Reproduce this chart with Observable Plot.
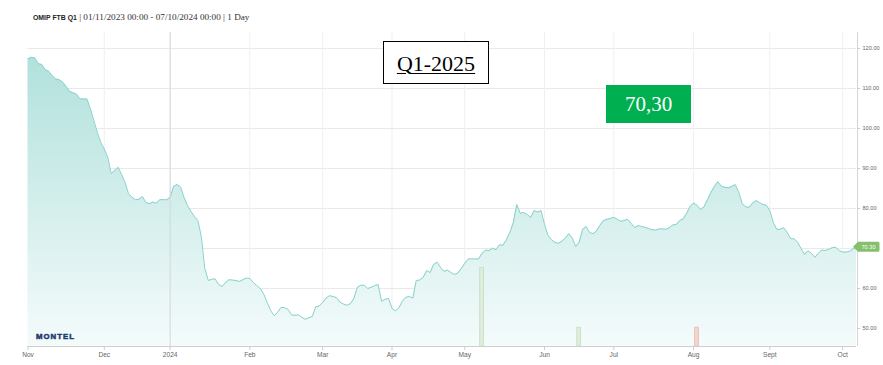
<!DOCTYPE html>
<html>
<head>
<meta charset="utf-8">
<script src="https://cdn.jsdelivr.net/npm/d3@7"></script>
<script src="https://cdn.jsdelivr.net/npm/@observablehq/plot@0.6"></script>
<style>
  html, body { margin: 0; padding: 0; background: #fff; width: 883px; height: 365px; overflow: hidden; position: relative; }
  #title { position: absolute; left: 33px; top: 9px; white-space: nowrap; line-height: 12px; }
  #title b { font-family: "Liberation Sans", Arial, sans-serif; font-weight: bold; font-size: 6.9px; color: #222; }
  #title span { font-family: "Liberation Serif", serif; font-size: 9.2px; color: #333; }
  #wrap { position: absolute; left: 0; top: 25px; width: 883px; height: 340px; }
  #wrap svg { position: absolute; left: 0; top: 0; }
  #logo { position: absolute; left: 36px; top: 332px; font-family: "Liberation Sans", Arial, sans-serif; font-weight: bold; font-size: 7.8px; letter-spacing: 1px; color: #1d3a6c; z-index: 3; -webkit-text-stroke: 0.5px #1d3a6c; }
  #q1 { position: absolute; left: 383px; top: 41px; width: 106px; height: 43px; box-sizing: border-box; border: 1.5px solid #000; background: #fff; display: flex; align-items: center; justify-content: center; font-family: "Liberation Serif", serif; font-size: 22px; color: #000; text-decoration: underline; text-decoration-thickness: 1.3px; text-underline-offset: 2px; padding-top: 2px; z-index: 3; }
  #last { position: absolute; left: 606px; top: 85px; width: 85px; height: 38px; background: #00b050; display: flex; align-items: center; justify-content: center; font-family: "Liberation Serif", serif; font-size: 21px; color: #fff; z-index: 3; }
</style>
</head>
<body>
<div id="title"><b>OMIP FTB Q1</b><span> | 01/11/2023 00:00 - 07/10/2024 00:00 | 1 Day</span></div>
<div id="wrap"></div>
<div id="logo">MONTEL</div>
<div id="q1">Q1-2025</div>
<div id="last">70,30</div>
<script>
// Daily settlement prices (EUR/MWh), one per trading day from 01/11/2023
const price = [
  117.4,117.8,117.6,116.2,116.0,114.7,114.3,113.2,112.4,112.2,
  111.6,110.5,109.3,108.9,108.6,107.4,107.4,107.4,104.9,102.0,
  99.0,96.5,94.9,92.8,88.7,89.5,90.3,88.5,86.5,83.7,
  82.8,82.2,82.3,83.0,81.5,81.2,81.6,81.3,82.2,82.2,
  82.2,82.8,85.5,86.0,85.4,82.8,80.8,79.3,78.0,77.0,
  73.0,65.0,62.0,62.3,62.4,61.0,60.5,61.5,62.2,62.1,
  62.0,61.75,62.2,62.6,62.5,61.5,60.7,60.0,58.6,56.5,
  54.5,53.2,54.0,55.3,55.2,54.8,53.4,53.3,53.4,52.8,
  52.3,52.7,53.0,55.4,55.6,56.5,57.6,58.2,58.0,57.7,
  56.6,56.1,55.8,56.2,57.5,60.3,60.8,60.8,60.0,60.3,
  60.7,61.0,56.8,57.3,57.5,55.0,54.4,55.2,56.8,57.8,
  58.0,57.6,62.0,62.1,62.8,64.5,64.0,66.0,66.6,65.3,
  64.3,64.6,64.0,63.5,63.9,65.0,66.3,67.4,67.4,67.4,
  67.4,68.8,69.6,69.5,70.1,69.7,70.9,70.8,72.2,74.0,
  76.5,81.0,78.8,79.0,78.5,77.8,79.5,79.1,79.5,76.0,
  73.3,72.2,71.5,71.3,71.8,72.6,73.7,72.6,70.5,71.6,
  74.8,75.5,74.0,73.7,74.4,75.8,77.0,77.3,77.5,77.8,
  77.3,76.8,77.0,77.3,76.3,75.2,75.75,75.5,75.3,75.0,
  74.7,74.6,74.9,74.9,74.8,75.2,75.9,76.0,77.0,77.4,
  78.8,80.5,81.4,80.8,79.8,80.4,82.2,84.0,85.5,86.7,
  85.6,85.3,85.2,85.5,86.0,84.2,81.3,80.4,80.3,81.3,
  82.0,81.5,81.0,80.8,79.5,76.5,74.8,74.8,75.2,74.0,
  72.5,72.4,71.6,70.0,68.5,69.4,68.8,67.8,68.8,69.6,
  69.5,69.8,70.2,70.3,69.5,69.1,69.1,69.3,69.9,70.3
];
// First trading day of each month (index into price) and its label
const tickIndex = [0, 22, 41, 64, 85, 105, 126, 149, 169, 192, 214, 235];
const monthLabel = ["Nov", "Dec", "2024", "Feb", "Mar", "Apr", "May", "Jun", "Jul", "Aug", "Sept", "Oct"];
const yearStartIndex = 41;
const priceTicks = [50, 60, 70, 80, 90, 100, 110, 120];
// Traded volume bars
const volumeDay = [131, 159, 193];
const volume = [25, 6, 6];
const volumeDirection = ["up", "up", "down"];
const lastLabel = "70.30";

const series = price.map((v, t) => ({t, v}));
const vols = volumeDay.map((t, i) => ({t, v: volume[i], dir: volumeDirection[i]}));

const W = 883, H = 340;
const margins = {marginTop: 7, marginRight: 27, marginBottom: 19, marginLeft: 27.5};
const xDomain = [0, price.length - 1];
const yDomain = [45.5, 124];

const main = Plot.plot({
  width: W, height: H, ...margins,
  x: {domain: xDomain, label: null},
  y: {domain: yDomain, label: null},
  style: {fontFamily: "Liberation Sans, Arial, sans-serif", fontSize: "6px", color: "#666", background: "transparent"},
  marks: [
    Plot.gridY(priceTicks, {stroke: "#e9e9e9", strokeOpacity: 1}),
    Plot.gridX(tickIndex.slice(1), {stroke: "#efefef", strokeOpacity: 1}),
    Plot.areaY(series, {x: "t", y1: yDomain[0], y2: "v", fill: "url(#omipGrad)"}),
    Plot.lineY(series, {x: "t", y: "v", stroke: "#86d2cb", strokeWidth: 1}),
    Plot.ruleX([yearStartIndex], {stroke: "#d6d6d6", strokeWidth: 1}),
    Plot.ruleY([yDomain[0]], {stroke: "#cfcfcf"}),
    Plot.ruleX([xDomain[1]], {stroke: "#d6d6d6", dx: 1}),
    Plot.axisX(tickIndex, {label: null, tickSize: 4, tickPadding: 2, fontSize: 6.6, stroke: "#cccccc", fill: "#666",
      tickFormat: d => monthLabel[tickIndex.indexOf(d)]}),
    Plot.axisY(priceTicks, {label: null, anchor: "right", tickSize: 3, tickPadding: 3, fontSize: 5.6, stroke: "#cccccc", fill: "#666",
      tickFormat: d => d.toFixed(2)})
  ]
});

d3.select(main).insert("defs", ":first-child").html(
  '<linearGradient id="omipGrad" x1="0" y1="0" x2="0" y2="1">' +
  '<stop offset="0" stop-color="#b1e1dc"/><stop offset="1" stop-color="#f4fbfb"/></linearGradient>');

// last-value flag on the right axis
const ys = main.scale("y"), xs = main.scale("x");
const fy = ys.apply(price[price.length - 1]);
const fx = xs.apply(xDomain[1]) - 3;
const g = d3.select(main).append("g");
g.append("path")
  .attr("d", `M${fx},${fy} L${fx + 5},${fy - 5} H${fx + 25} a1.5,1.5 0 0 1 1.5,1.5 V${fy + 3.5} a1.5,1.5 0 0 1 -1.5,1.5 H${fx + 5} Z`)
  .attr("fill", "#86c06c");
g.append("text").attr("x", fx + 15.5).attr("y", fy).attr("dy", "0.36em")
  .attr("text-anchor", "middle").attr("fill", "#fff").attr("font-size", 5.6).text(lastLabel);

const volPlot = Plot.plot({
  width: W, height: H, ...margins,
  x: {domain: xDomain, label: null},
  y: {domain: [0, 100], label: null},
  axis: null,
  style: {background: "transparent"},
  marks: [
    Plot.rect(vols.filter(d => d.dir === "up"), {x1: d => d.t - 0.55, x2: d => d.t + 0.55, y1: 0, y2: "v", fill: "#deeedb", stroke: "#c6ddc3", strokeWidth: 0.8}),
    Plot.rect(vols.filter(d => d.dir === "down"), {x1: d => d.t - 0.55, x2: d => d.t + 0.55, y1: 0, y2: "v", fill: "#f4d4cf", stroke: "#e8bcb5", strokeWidth: 0.8})
  ]
});

const wrap = document.getElementById("wrap");
wrap.appendChild(main);
wrap.appendChild(volPlot);
</script>
</body>
</html>
